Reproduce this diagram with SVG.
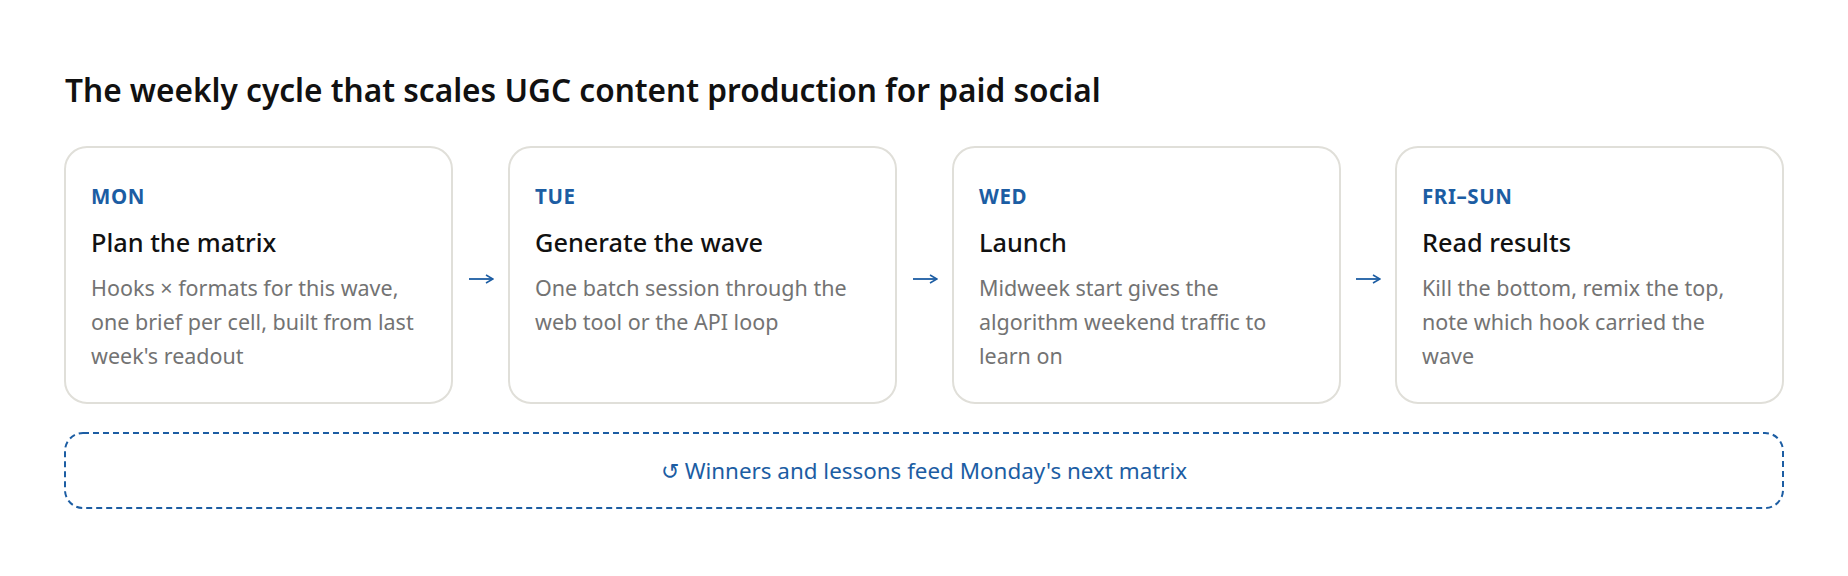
<svg xmlns="http://www.w3.org/2000/svg" width="1848" height="576" viewBox="0 0 1848 576">
<style>
text{font-family:"Segoe UI","Noto Sans","Open Sans",sans-serif}
.title{font-size:31.6px;font-weight:600;fill:#111}
.card{fill:#fff;stroke:#e0dfd9;stroke-width:2}
.day{font-size:20.5px;font-weight:700;fill:#1c5da3;letter-spacing:0.6px}
.head{font-size:25.3px;font-weight:500;fill:#111}
.body{font-size:21.5px;fill:#737373}
.conn{fill:none;stroke:#1c5da3;stroke-width:1.8}
.loop{fill:none;stroke:#1c5da3;stroke-width:2;stroke-dasharray:6 4}
.looptext{font-size:22.4px;fill:#1c5da3}
</style>
<defs>
<marker id="ah" viewBox="0 0 10 10" refX="9" refY="5" markerWidth="10" markerHeight="10" markerUnits="userSpaceOnUse" orient="auto">
<path d="M2,1 L9,5 L2,9" fill="none" stroke="#1c5da3" stroke-width="1.6"/>
</marker>
</defs>
<rect width="1848" height="576" fill="#fff"/>
<text class="title" x="65" y="102">The weekly cycle that scales UGC content production for paid social</text>
<g id="mon">
<rect class="card" x="65" y="147" width="387" height="256" rx="22"/>
<text class="day" x="91" y="204">MON</text>
<text class="head" x="91" y="252">Plan the matrix</text>
<text class="body" x="91" y="296">Hooks × formats for this wave,</text>
<text class="body" x="91" y="330">one brief per cell, built from last</text>
<text class="body" x="91" y="364">week's readout</text>
</g>
<g id="tue">
<rect class="card" x="509" y="147" width="387" height="256" rx="22"/>
<text class="day" x="535" y="204">TUE</text>
<text class="head" x="535" y="252">Generate the wave</text>
<text class="body" x="535" y="296">One batch session through the</text>
<text class="body" x="535" y="330">web tool or the API loop</text>
</g>
<g id="wed">
<rect class="card" x="953" y="147" width="387" height="256" rx="22"/>
<text class="day" x="979" y="204">WED</text>
<text class="head" x="979" y="252">Launch</text>
<text class="body" x="979" y="296">Midweek start gives the</text>
<text class="body" x="979" y="330">algorithm weekend traffic to</text>
<text class="body" x="979" y="364">learn on</text>
</g>
<g id="frisun">
<rect class="card" x="1396" y="147" width="387" height="256" rx="22"/>
<text class="day" x="1422" y="204">FRI–SUN</text>
<text class="head" x="1422" y="252">Read results</text>
<text class="body" x="1422" y="296">Kill the bottom, remix the top,</text>
<text class="body" x="1422" y="330">note which hook carried the</text>
<text class="body" x="1422" y="364">wave</text>
</g>
<g id="connectors">
<path class="conn" d="M469,279 H493" marker-end="url(#ah)"/>
<path class="conn" d="M913,279 H937" marker-end="url(#ah)"/>
<path class="conn" d="M1356,279 H1380" marker-end="url(#ah)"/>
</g>
<g id="loop">
<rect class="loop" x="65" y="433" width="1718" height="75" rx="18"/>
<text class="looptext" x="924" y="479" text-anchor="middle">↺ Winners and lessons feed Monday's next matrix</text>
</g>
</svg>
